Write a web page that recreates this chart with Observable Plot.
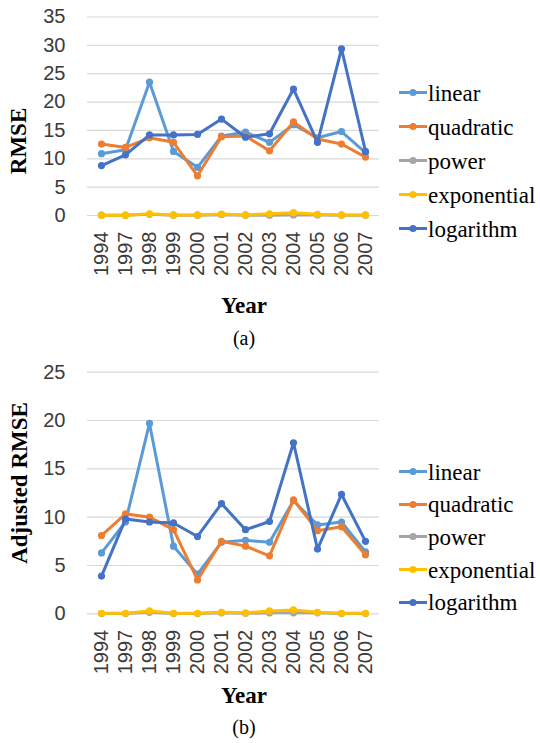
<!DOCTYPE html>
<html>
<head>
<meta charset="utf-8">
<script src="https://cdn.jsdelivr.net/npm/d3@7"></script>
<script src="https://cdn.jsdelivr.net/npm/@observablehq/plot@0.6"></script>
<style>
  html, body { margin: 0; padding: 0; background: #fff; }
  #root { position: relative; width: 540px; height: 743px; overflow: hidden; background: #fff; }
  .abs { position: absolute; }
  .ylab { font-family: "Liberation Serif", "Times New Roman", serif; font-weight: bold; font-size: 23px; color: #000;
          transform: translate(-50%, -50%) rotate(-90deg); white-space: nowrap; line-height: 1; }
  .xlab { font-family: "Liberation Serif", "Times New Roman", serif; font-weight: bold; font-size: 23px; color: #000;
          transform: translateX(-50%); white-space: nowrap; line-height: 1; }
  .cap { font-family: "Liberation Serif", "Times New Roman", serif; font-size: 20px; color: #000;
         transform: translateX(-50%); white-space: nowrap; line-height: 1; }
  .leg { display: flex; align-items: center; font-family: "Liberation Serif", "Times New Roman", serif;
         font-size: 23px; color: #000; line-height: 1; transform: translateY(-50%); white-space: nowrap; }
  .leg svg { margin-right: 1px; }
</style>
</head>
<body>
<div id="root"></div>
<script>
// ---- data ----
const years = ["1994","1997","1998","1999","2000","2001","2002","2003","2004","2005","2006","2007"];
const seriesNames = ["linear","quadratic","power","exponential","logarithm"];
const seriesColors = ["#5B9BD5","#ED7D31","#A5A5A5","#FFC000","#4472C4"];

// (a) RMSE
const rmseLinear      = [10.9, 11.6, 23.5, 11.3, 8.5, 14.0, 14.7, 12.9, 16.0, 13.7, 14.8, 11.1];
const rmseQuadratic   = [12.6, 12.0, 13.7, 12.9, 7.0, 13.9, 14.0, 11.4, 16.5, 13.5, 12.6, 10.3];
const rmsePower       = [0.05, 0.05, 0.2, 0.05, 0.05, 0.15, 0.05, 0.05, 0.1, 0.1, 0.05, 0.05];
const rmseExponential = [0.05, 0.05, 0.3, 0.1, 0.1, 0.25, 0.1, 0.3, 0.5, 0.2, 0.1, 0.1];
const rmseLogarithm   = [8.8, 10.7, 14.2, 14.2, 14.3, 17.0, 13.8, 14.4, 22.3, 12.9, 29.4, 11.3];

// (b) Adjusted RMSE
const adjLinear      = [6.3, 9.5, 19.7, 7.0, 4.1, 7.4, 7.6, 7.4, 11.7, 9.2, 9.5, 6.4];
const adjQuadratic   = [8.1, 10.35, 10.0, 8.7, 3.5, 7.5, 7.0, 6.0, 11.8, 8.6, 9.0, 6.1];
const adjPower       = [0.02, 0.02, 0.15, 0.02, 0.02, 0.1, 0.05, 0.1, 0.1, 0.1, 0.02, 0.02];
const adjExponential = [0.05, 0.05, 0.3, 0.05, 0.05, 0.15, 0.1, 0.3, 0.4, 0.15, 0.05, 0.05];
const adjLogarithm   = [3.9, 9.8, 9.5, 9.4, 8.0, 11.4, 8.7, 9.55, 17.7, 6.7, 12.35, 7.5];

const rmseTicks = [0, 5, 10, 15, 20, 25, 30, 35];
const adjTicks  = [0, 5, 10, 15, 20, 25];

const rmseLabel = "RMSE";
const adjLabel = "Adjusted RMSE";
const xLabel = "Year";
const captions = ["(a)", "(b)"];

// ---- drawing ----
const root = document.getElementById("root");

function rowsOf(values, name) {
  return years.map((y, i) => ({year: y, value: values[i], series: name}));
}

function makeChart(cfg) {
  const marks = [
    Plot.ruleY(cfg.ticks, {stroke: "#d9d9d9", strokeWidth: 1.2}),
    Plot.axisY({ticks: cfg.ticks, tickSize: 0, tickPadding: 22, label: null}),
    Plot.axisX({tickSize: 0, tickRotate: -90, tickPadding: 16, label: null})
  ];
  cfg.values.forEach((vals, i) => {
    const rows = rowsOf(vals, seriesNames[i]);
    marks.push(Plot.line(rows, {x: "year", y: "value", stroke: seriesColors[i], strokeWidth: 3, strokeLinejoin: "round"}));
    marks.push(Plot.dot(rows, {x: "year", y: "value", fill: seriesColors[i], r: 3.6}));
  });
  const svg = Plot.plot({
    width: 390,
    height: cfg.height,
    marginLeft: 87,
    marginRight: 11,
    marginTop: cfg.marginTop,
    marginBottom: cfg.height - cfg.plotBottom,
    x: {type: "point", domain: years, padding: 0.5},
    y: {domain: [0, cfg.ticks[cfg.ticks.length - 1]]},
    style: {fontFamily: "'Liberation Sans', Arial, sans-serif", fontSize: "20px", color: "#3a3a3a", background: "transparent", overflow: "visible"},
    marks
  });
  svg.classList.add("abs");
  svg.style.left = "0px";
  svg.style.top = cfg.top + "px";
  root.appendChild(svg);

  const yl = document.createElement("div");
  yl.className = "abs ylab";
  yl.textContent = cfg.yLabel;
  yl.style.left = cfg.yLabelX + "px";
  yl.style.top = cfg.yLabelY + "px";
  root.appendChild(yl);

  const xl = document.createElement("div");
  xl.className = "abs xlab";
  xl.textContent = xLabel;
  xl.style.left = "244px";
  xl.style.top = cfg.xLabelTop + "px";
  root.appendChild(xl);

  const cp = document.createElement("div");
  cp.className = "abs cap";
  cp.textContent = cfg.caption;
  cp.style.left = "244px";
  cp.style.top = cfg.capTop + "px";
  root.appendChild(cp);

  seriesNames.forEach((name, i) => {
    const item = document.createElement("div");
    item.className = "abs leg";
    item.style.left = "399px";
    item.style.top = (cfg.legStart + i * cfg.legStep) + "px";
    const c = seriesColors[i];
    item.innerHTML = `<svg width="28" height="10" viewBox="0 0 28 10"><line x1="0" y1="5" x2="28" y2="5" stroke="${c}" stroke-width="3"/><circle cx="14" cy="5" r="3.6" fill="${c}"/></svg><span>${name}</span>`;
    root.appendChild(item);
  });
}

makeChart({
  top: 0, height: 285, marginTop: 16.5, plotBottom: 215,
  ticks: rmseTicks,
  values: [rmseLinear, rmseQuadratic, rmsePower, rmseExponential, rmseLogarithm],
  yLabel: rmseLabel, yLabelX: 18, yLabelY: 141,
  xLabelTop: 294, caption: captions[0], capTop: 328,
  legStart: 92.5, legStep: 34
});

makeChart({
  top: 360, height: 320, marginTop: 11.7, plotBottom: 253.3,
  ticks: adjTicks,
  values: [adjLinear, adjQuadratic, adjPower, adjExponential, adjLogarithm],
  yLabel: adjLabel, yLabelX: 18.5, yLabelY: 482.5,
  xLabelTop: 684, caption: captions[1], capTop: 717,
  legStart: 471.5, legStep: 32.7
});
</script>
</body>
</html>
